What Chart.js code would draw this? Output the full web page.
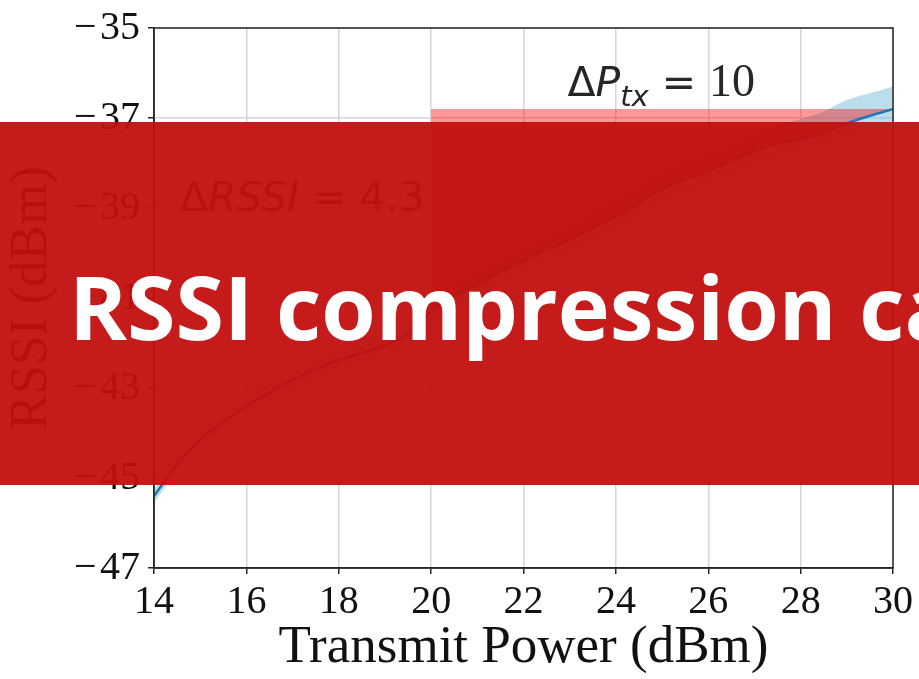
<!DOCTYPE html>
<html>
<head>
<meta charset="utf-8">
<script src="https://cdn.jsdelivr.net/npm/chart.js@4.4.0/dist/chart.umd.min.js"></script>
<style>
  html, body { margin: 0; padding: 0; background: #ffffff; }
  #wrap { position: relative; width: 919px; height: 679px; overflow: hidden; }
  #chart { position: absolute; left: 0; top: 0; }
  #banner {
    position: absolute; left: 0; top: 122px; width: 919px; height: 363px;
    background: rgba(195, 15, 15, 0.95); overflow: hidden;
  }
  #bannerText {
    position: absolute; left: 69px; top: 140px; white-space: nowrap;
    font-family: "Open Sans", sans-serif; font-weight: 700; font-size: 88px;
    line-height: 88px; color: #ffffff;
  }
</style>
</head>
<body>
<div id="wrap">
  <canvas id="chart" width="919" height="679"></canvas>
  <div id="banner"><div id="bannerText">RSSI compression ca</div></div>
</div>
<script>
// ---- data ----
const txPower = [14, 14.5, 15, 15.5, 16, 16.5, 17, 17.5, 18, 18.5, 19, 19.5, 20, 20.5, 21, 21.5, 22,
                 22.5, 23, 23.5, 24, 24.5, 25, 25.5, 26, 26.5, 27, 27.5, 28, 28.5, 29, 29.5, 30];
const rssiMean = [-45.40, -44.70, -44.15, -43.75, -43.40, -43.10, -42.82, -42.58, -42.38, -42.22, -42.05,
                  -41.80, -41.30, -40.95, -40.70, -40.42, -40.17, -39.92, -39.70, -39.45, -39.18, -38.88,
                  -38.58, -38.36, -38.18, -37.95, -37.72, -37.56, -37.46, -37.33, -37.12, -36.95, -36.80];
const rssiUpper = [-45.25, -44.55, -43.98, -43.57, -43.22, -42.90, -42.60, -42.35, -42.14, -41.97, -41.78,
                   -41.52, -41.02, -40.65, -40.40, -40.10, -39.84, -39.57, -39.32, -39.05, -38.78, -38.45,
                   -38.13, -37.93, -37.76, -37.54, -37.32, -37.15, -37.02, -36.85, -36.60, -36.45, -36.30];
const rssiLower = [-45.55, -44.85, -44.30, -43.92, -43.58, -43.30, -43.03, -42.80, -42.60, -42.45, -42.28,
                   -42.05, -41.55, -41.20, -40.97, -40.70, -40.45, -40.20, -39.98, -39.75, -39.48, -39.18,
                   -38.88, -38.66, -38.48, -38.25, -38.02, -37.86, -37.76, -37.63, -37.42, -37.25, -37.10];
const xTicks = [14, 16, 18, 20, 22, 24, 26, 28, 30];
const yTicks = [-47, -45, -43, -41, -39, -37, -35];
const deltaPtx = 10;
const deltaRssi = 4.3;

// ---- derived datasets ----
const pts = (ys) => txPower.map((x, i) => ({ x: x, y: ys[i] }));
const xEnd = txPower[txPower.length - 1];
const yEnd = rssiMean[rssiMean.length - 1];
const spanPts = txPower.map((x, i) => ({ x: x, y: rssiMean[i] })).filter(p => p.x >= xEnd - deltaPtx);

const serif = '"Liberation Serif", "Times New Roman", serif';
const sans = '"DejaVu Sans", sans-serif';

const framePlugin = {
  id: 'frame',
  afterDraw(chart) {
    const { ctx, chartArea: a } = chart;
    ctx.save();
    ctx.strokeStyle = '#262626';
    ctx.lineWidth = 1.5;
    ctx.strokeRect(a.left, a.top, a.right - a.left, a.bottom - a.top);
    ctx.restore();
  }
};

function drawRich(ctx, x, y, parts) {
  let cx = x;
  parts.forEach(p => {
    ctx.font = p.font;
    ctx.fillText(p.t, cx, y + (p.dy || 0));
    cx += ctx.measureText(p.t).width;
  });
}

const annotPlugin = {
  id: 'annot',
  afterDatasetsDraw(chart) {
    const { ctx, scales: { x, y } } = chart;
    ctx.save();
    ctx.fillStyle = '#262626';
    ctx.textBaseline = 'alphabetic';
    drawRich(ctx, x.getPixelForValue(22.95), y.getPixelForValue(-36.51), [
      { t: 'Δ', font: '41px ' + sans },
      { t: 'P', font: 'italic 41px ' + sans },
      { t: 'tx', font: 'italic 29px ' + sans, dy: 10 },
      { t: ' = ', font: '41px ' + sans },
      { t: String(deltaPtx), font: '46px ' + serif }
    ]);
    drawRich(ctx, x.getPixelForValue(14.56), y.getPixelForValue(-39.06), [
      { t: 'Δ', font: '41px ' + sans },
      { t: 'RSSI', font: 'italic 41px ' + sans },
      { t: ' = ' + deltaRssi, font: '41px ' + sans }
    ]);
    ctx.restore();
  }
};

new Chart(document.getElementById('chart'), {
  type: 'line',
  data: {
    datasets: [
      { label: 'lower', data: pts(rssiLower), borderWidth: 0, pointRadius: 0, fill: false,
        cubicInterpolationMode: 'monotone', order: 3 },
      { label: 'upper', data: pts(rssiUpper), borderWidth: 0, pointRadius: 0, fill: '-1',
        backgroundColor: 'rgba(130, 195, 220, 0.55)', cubicInterpolationMode: 'monotone', order: 3 },
      { label: 'span', data: spanPts, borderWidth: 0, pointRadius: 0, fill: { value: yEnd },
        backgroundColor: 'rgba(255, 0, 0, 0.4)', cubicInterpolationMode: 'monotone', order: 2 },
      { label: 'RSSI', data: pts(rssiMean), borderColor: '#1f77b4', borderWidth: 2.5, pointRadius: 0,
        fill: false, cubicInterpolationMode: 'monotone', order: 1 }
    ]
  },
  options: {
    responsive: false,
    animation: false,
    devicePixelRatio: 1,
    layout: { padding: { left: 0, right: 26, top: 27, bottom: 0 } },
    plugins: { legend: { display: false }, tooltip: { enabled: false } },
    scales: {
      x: {
        type: 'linear', min: 14, max: 30,
        afterBuildTicks: s => { s.ticks = xTicks.map(v => ({ value: v })); },
        afterFit: s => { s.height = 111; },
        grid: { color: '#d6d6d6', lineWidth: 1.5, tickColor: '#262626', tickLength: 6, tickWidth: 1.5 },
        border: { display: true, color: '#262626', width: 1.5 },
        ticks: { font: { family: serif, size: 40 }, color: '#111111', padding: 4, maxRotation: 0 },
        title: { display: true, text: 'Transmit Power (dBm)', font: { family: serif, size: 53, lineHeight: 1.15 },
                 color: '#111111', padding: { top: 0, bottom: 0 } }
      },
      y: {
        type: 'linear', min: -47, max: -35,
        afterBuildTicks: s => { s.ticks = yTicks.map(v => ({ value: v })); },
        afterFit: s => { s.width = 154; },
        grid: { color: '#d6d6d6', lineWidth: 1.5, tickColor: '#262626', tickLength: 6, tickWidth: 1.5 },
        border: { display: true, color: '#262626', width: 1.5 },
        ticks: { font: { family: serif, size: 40, lineHeight: 1.0 }, color: '#111111', padding: 8,
                 callback: v => (v < 0 ? '\u2212\u200A' : '') + Math.abs(v) },
        title: { display: true, text: 'RSSI (dBm)', font: { family: serif, size: 53 },
                 color: '#111111', padding: { top: 0, bottom: 0 } }
      }
    }
  },
  plugins: [framePlugin, annotPlugin]
});
</script>
</body>
</html>
